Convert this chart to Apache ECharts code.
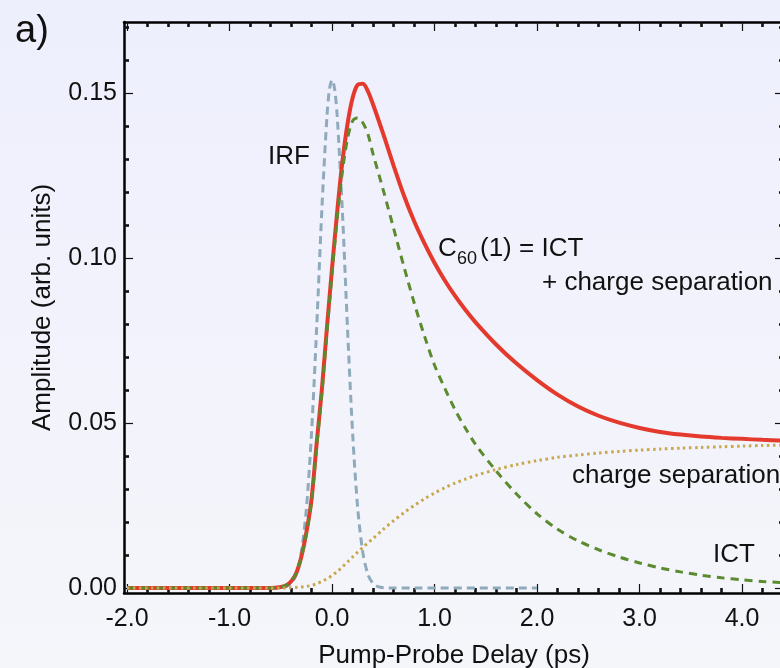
<!DOCTYPE html>
<html>
<head>
<meta charset="utf-8">
<script src="https://cdn.jsdelivr.net/npm/echarts@6/dist/echarts.min.js"></script>
<style>
  html, body { margin: 0; padding: 0; }
  #chart { width: 780px; height: 668px; }
</style>
</head>
<body>
<div id="chart"></div>
<script>
// delay axis (ps) shared by the fit curves
const delay = [-2.0, -1.0, -0.6, -0.5, -0.45, -0.4, -0.35, -0.3, -0.25, -0.2, -0.15, -0.1, -0.05,
  0.0, 0.05, 0.1, 0.15, 0.2, 0.25, 0.3, 0.35, 0.4, 0.5, 0.6, 0.7, 0.8, 0.9, 1.0,
  1.1, 1.2, 1.3, 1.4, 1.6, 1.8, 2.0, 2.2, 2.4, 2.6, 2.8, 3.0, 3.2, 3.4, 3.6, 3.8, 4.0, 4.2, 4.4];

// C60(1) total = ICT + charge separation
const totalAmp = [0, 0, 0, 0.0003, 0.0008, 0.002, 0.0045, 0.0095, 0.017, 0.027, 0.044, 0.060, 0.079,
  0.097, 0.114, 0.129, 0.1405, 0.1485, 0.1525, 0.1528, 0.1505, 0.1465, 0.1375, 0.128, 0.119, 0.1112, 0.1045, 0.0985,
  0.0932, 0.0885, 0.0843, 0.0805, 0.0738, 0.068, 0.063, 0.0586, 0.055, 0.0522, 0.0501, 0.0485, 0.0473, 0.0465, 0.0459, 0.0455, 0.0452, 0.0449, 0.0447];

// ICT component
const ictAmp = [0, 0, 0, 0.0003, 0.0008, 0.002, 0.0045, 0.0093, 0.0165, 0.0265, 0.043, 0.059, 0.0775,
  0.0955, 0.112, 0.126, 0.136, 0.1415, 0.1425, 0.141, 0.1375, 0.1315, 0.1205, 0.109, 0.0975, 0.0865, 0.0765, 0.0675,
  0.0605, 0.054, 0.0485, 0.0435, 0.0355, 0.0285, 0.0225, 0.0178, 0.0143, 0.0116, 0.0094, 0.0076, 0.0061, 0.0049, 0.0039, 0.0031, 0.0025, 0.002, 0.0016];

// charge separation component
const csAmp = [0, 0, 0, 0, 0, 0.0001, 0.0002, 0.0003, 0.0005, 0.0008, 0.0013, 0.002, 0.0028,
  0.0038, 0.005, 0.0064, 0.0079, 0.0094, 0.0109, 0.0123, 0.0137, 0.015, 0.0178, 0.0204, 0.0228, 0.025, 0.027, 0.0288,
  0.0304, 0.0318, 0.033, 0.0341, 0.0359, 0.0374, 0.0386, 0.0396, 0.0403, 0.0409, 0.0414, 0.0418, 0.0421, 0.0424, 0.0426, 0.0428, 0.043, 0.0432, 0.0433];

// instrument response function
const irfDelay = [-2.0, -0.6, -0.5, -0.45, -0.4, -0.35, -0.3, -0.25, -0.2, -0.15, -0.1, -0.05, -0.025,
  0, 0.025, 0.05, 0.1, 0.15, 0.2, 0.25, 0.3, 0.35, 0.4, 0.45, 0.5, 0.6, 2.0];
const irfAmp = [0, 0, 0.0001, 0.0004, 0.0014, 0.0041, 0.0108, 0.0242, 0.0472, 0.0791, 0.1145, 0.143, 0.1512,
  0.154, 0.1512, 0.143, 0.1145, 0.0791, 0.0472, 0.0242, 0.0108, 0.0041, 0.0014, 0.0004, 0.0001, 0, 0];

// ticks
const xTicks = [-2, -1, 0, 1, 2, 3, 4];
const xMinorTicks = [-1.8, -1.6, -1.4, -1.2, -0.8, -0.6, -0.4, -0.2, 0.2, 0.4, 0.6, 0.8,
  1.2, 1.4, 1.6, 1.8, 2.2, 2.4, 2.6, 2.8, 3.2, 3.4, 3.6, 3.8, 4.2, 4.4];
const yTicks = [0, 0.05, 0.10, 0.15];
const yMinorTicks = [0.01, 0.02, 0.03, 0.04, 0.06, 0.07, 0.08, 0.09, 0.11, 0.12, 0.13, 0.14, 0.16, 0.17];

const X_MIN = -2.03, X_MAX = 4.409;
const Y_MIN = -0.0015, Y_MAX = 0.1715;

const FONT = '"Liberation Sans", Arial, Helvetica, sans-serif';

const chart = echarts.init(document.getElementById('chart'));

function pairs(xs, ys) {
  return xs.map((x, i) => [x, ys[i]]);
}

// one axis = either the major ticks (with line) or the minor ticks
function xAx(pos, major, withLabel) {
  return {
    type: 'value', position: pos, min: X_MIN, max: X_MAX,
    axisLine: { show: major, onZero: false, lineStyle: { color: '#000', width: 2.5 } },
    axisTick: {
      show: true, inside: true, length: major ? 9 : 5,
      customValues: major ? xTicks : xMinorTicks,
      lineStyle: { color: '#111', width: major ? 1.2 : 2.6 }
    },
    axisLabel: {
      show: withLabel, customValues: xTicks, margin: 14,
      formatter: v => v.toFixed(1),
      color: '#111', fontSize: 25, fontFamily: FONT
    },
    splitLine: { show: false }
  };
}

function yAx(pos, major, withLabel) {
  return {
    type: 'value', position: pos, min: Y_MIN, max: Y_MAX,
    axisLine: { show: major, onZero: false, lineStyle: { color: '#000', width: 2.5 } },
    axisTick: {
      show: true, inside: true, length: major ? 9 : 5,
      customValues: major ? yTicks : yMinorTicks,
      lineStyle: { color: '#111', width: major ? 1.2 : 2.6 }
    },
    axisLabel: {
      show: withLabel, customValues: yTicks, margin: 7, hideOverlap: false,
      formatter: v => v.toFixed(2),
      color: '#111', fontSize: 25, fontFamily: FONT
    },
    splitLine: { show: false }
  };
}

const xBottom = xAx('bottom', true, true);
xBottom.name = 'Pump-Probe Delay (ps)';
xBottom.nameLocation = 'middle';
xBottom.nameGap = 50;
xBottom.nameTextStyle = { color: '#111', fontSize: 26, fontFamily: FONT };

const yLeft = yAx('left', true, true);
yLeft.name = 'Amplitude (arb. units)';
yLeft.nameLocation = 'middle';
yLeft.nameGap = 68;
yLeft.nameTextStyle = { color: '#111', fontSize: 26, fontFamily: FONT };

function txt(x, y, text, size) {
  return {
    type: 'text', x: x, y: y, z: 100,
    style: { text: text, fill: '#111', font: size + 'px ' + FONT, align: 'left', verticalAlign: 'middle' }
  };
}

const option = {
  animation: false,
  backgroundColor: {
    type: 'linear', x: 0, y: 0, x2: 0, y2: 1,
    colorStops: [{ offset: 0, color: '#eeeffd' }, { offset: 1, color: '#f5f6fa' }]
  },
  grid: { left: 124, top: 22, width: 660, height: 571, containLabel: false, outerBoundsMode: 'none' },
  xAxis: [xBottom, xAx('bottom', false, false), xAx('top', true, false), xAx('top', false, false)],
  yAxis: [yLeft, yAx('left', false, false), yAx('right', true, false), yAx('right', false, false)],
  series: [
    {
      name: 'IRF', type: 'line', data: pairs(irfDelay, irfAmp),
      showSymbol: false, smooth: 0.3, z: 2,
      lineStyle: { color: '#8eaabb', width: 3, type: [8, 5] }
    },
    {
      name: 'C60(1)', type: 'line', data: pairs(delay, totalAmp),
      showSymbol: false, smooth: 0.3, z: 3,
      lineStyle: { color: '#e43a2d', width: 4 }
    },
    {
      name: 'ICT', type: 'line', data: pairs(delay, ictAmp),
      showSymbol: false, smooth: 0.3, z: 4,
      lineStyle: { color: '#5b8a2f', width: 3, type: [8, 6] }
    },
    {
      name: 'charge separation', type: 'line', data: pairs(delay, csAmp),
      showSymbol: false, smooth: 0.3, z: 5,
      lineStyle: { color: '#c9a64b', width: 3, type: [2.5, 3.5] }
    }
  ],
  graphic: [
    txt(15, 32, 'a)', 38),
    txt(268, 157, 'IRF', 26),
    txt(438, 249, 'C', 26),
    txt(457, 259, '60', 18),
    txt(480, 249, '(1) = ICT', 26),
    txt(542, 283, '+ charge separation', 26),
    txt(572, 476, 'charge separation', 26),
    txt(713, 555, 'ICT', 26)
  ]
};

chart.setOption(option);
</script>
</body>
</html>
